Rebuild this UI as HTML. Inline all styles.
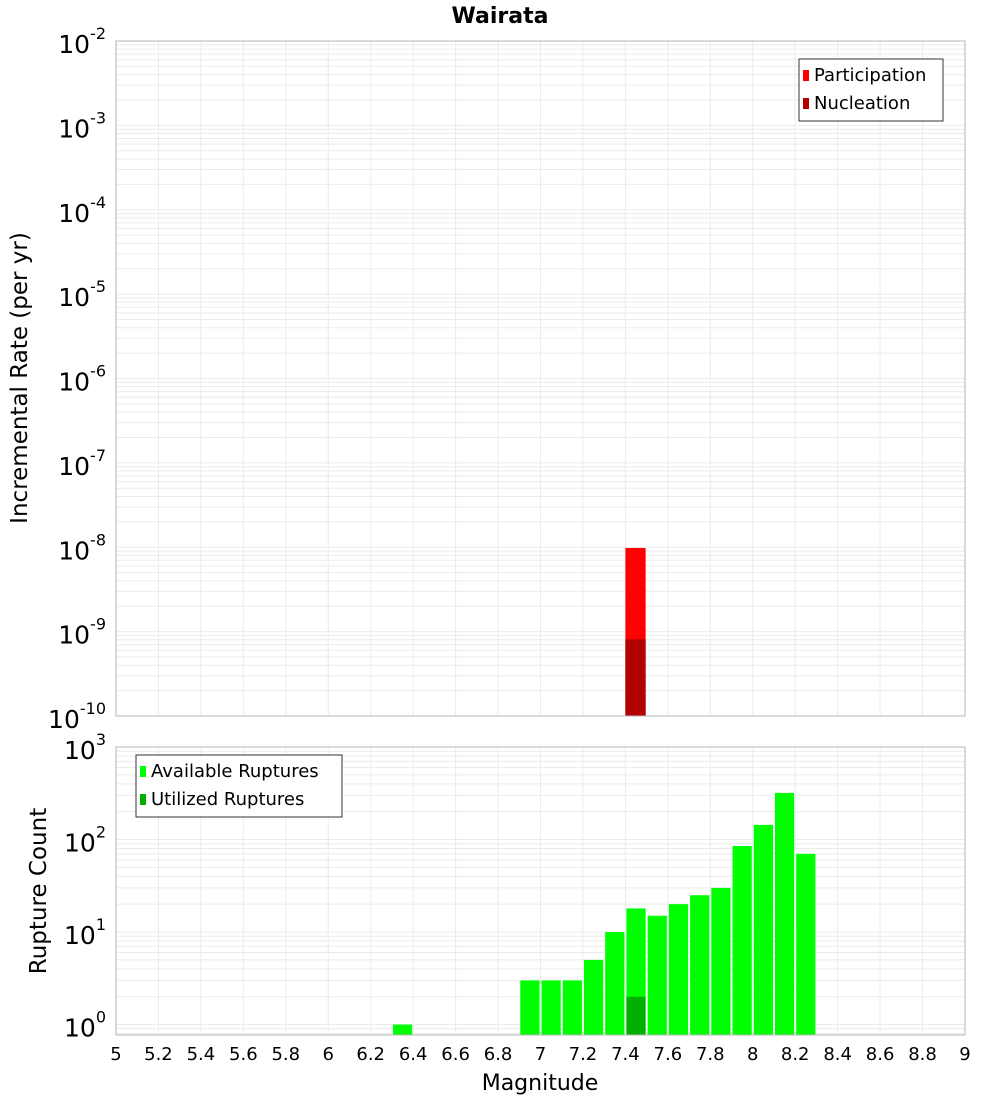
<!DOCTYPE html>
<html><head><meta charset="utf-8"><style>
body{margin:0;background:#fff}
svg{display:block;font-family:"DejaVu Sans","Liberation Sans",sans-serif}
</style></head><body>
<svg id="c" width="1000" height="1100" xmlns="http://www.w3.org/2000/svg">
<rect width="1000" height="1100" fill="#fff"/>
<text x="500" y="23" text-anchor="middle" font-size="22" font-weight="bold">Wairata</text>
<g id="topPanel"></g><g id="botPanel"></g>
<text transform="translate(27,378) rotate(-90)" text-anchor="middle" font-size="23">Incremental Rate (per yr)</text>
<text transform="translate(46,891) rotate(-90)" text-anchor="middle" font-size="23">Rupture Count</text>
<text x="540" y="1090" text-anchor="middle" font-size="22">Magnitude</text>
</svg>
<script>
const binCenters=[7.45];
const participation=[9.8e-9];
const nucleation=[8.1e-10];
const countBins=[6.35,6.95,7.05,7.15,7.25,7.35,7.45,7.55,7.65,7.75,7.85,7.95,8.05,8.15,8.25];
const available=[1,3,3,3,5,10,18,15,20,25,30,85,144,319,70];
const utilizedBins=[7.45];
const utilized=[2];
const xTicks=[5,5.2,5.4,5.6,5.8,6,6.2,6.4,6.6,6.8,7,7.2,7.4,7.6,7.8,8,8.2,8.4,8.6,8.8,9];
const topDecades=[-10,-9,-8,-7,-6,-5,-4,-3,-2];
const botDecades=[0,1,2,3];

const NS="http://www.w3.org/2000/svg";
const PL=116,PR=965;
const X=m=>PL+(m-5)/4*(PR-PL);
function el(p,t,a){const e=document.createElementNS(NS,t);for(const k in a)e.setAttribute(k,a[k]);p.appendChild(e);return e;}
function panel(g,y0,y1,yTop,yBot,decades,name){
  const Y=v=>y0+(yTop-Math.log10(v))/(yTop-yBot)*(y1-y0);
  const gridG=el(g,'g',{});
  
  
  for(const t of xTicks){const x=X(t);el(gridG,'line',{x1:x,x2:x,y1:y0,y2:y1,stroke:'#ebebeb','stroke-width':1});}
  for(let d=Math.floor(yBot);d<yTop;d++){for(let k=1;k<10;k++){const v=k*Math.pow(10,d);const lv=Math.log10(v);if(lv<yBot||lv>yTop)continue;const y=Y(v);el(gridG,'line',{x1:PL,x2:PR,y1:y,y2:y,stroke:'#ebebeb','stroke-width':1});}}
  for(const d of decades){const y=Y(Math.pow(10,d));
    const t=el(g,'text',{x:PL-10,y:y+12,'text-anchor':'end','font-size':25});
    
    
    t.textContent='10';
    const s=el(t,'tspan',{dy:-14,'font-size':16});s.textContent=String(d);}
  return Y;
}
const topG=document.getElementById('topPanel'),botG=document.getElementById('botPanel');
const Yt=panel(topG,41,716,-2,-10,topDecades,'top');
const Yb=panel(botG,747,1035,3,-0.113,botDecades,'bottom');
const bw=(X(5.1)-X(5))-1;
participation.forEach((v,i)=>{const x=X(binCenters[i]-0.05);const r=el(topG,'rect',{x:x,y:Yt(v),width:bw,height:716-Yt(v),fill:'#ff0000'});

});
nucleation.forEach((v,i)=>{const x=X(binCenters[i]-0.05);const r=el(topG,'rect',{x:x,y:Yt(v),width:bw,height:716-Yt(v),fill:'#b30000'});

});
available.forEach((v,i)=>{const x=X(countBins[i]-0.05)+1;const r=el(botG,'rect',{x:x,y:Yb(v),width:bw-1,height:1035-Yb(v),fill:'#00ff00'});

});
utilized.forEach((v,i)=>{const x=X(utilizedBins[i]-0.05)+1;const r=el(botG,'rect',{x:x,y:Yb(v),width:bw-1,height:1035-Yb(v),fill:'#00b000'});

});
el(topG,'rect',{x:PL,y:41,width:PR-PL,height:675,fill:'none',stroke:'#b4b4b4'});
el(botG,'rect',{x:PL,y:747,width:PR-PL,height:288,fill:'none',stroke:'#b4b4b4'});
xTicks.forEach(t=>{const tx=el(botG,'text',{x:X(t),y:1060,'text-anchor':'middle','font-size':18});


tx.textContent=String(t);});
function legend(g,x,y,w,items,name){const lg=el(g,'g',{});


el(lg,'rect',{x:x,y:y,width:w,height:items.length*28+6,fill:'#fff',stroke:'#333'});
items.forEach((it,i)=>{el(lg,'rect',{x:x+4,y:y+11+i*28,width:6,height:11,fill:it[1]});const t=el(lg,'text',{x:x+15,y:y+22+i*28,'font-size':18});t.textContent=it[0];});}
legend(topG,799,59,144,[['Participation','#ff0000'],['Nucleation','#b30000']],'top-legend');
legend(botG,136,755,206,[['Available Ruptures','#00ff00'],['Utilized Ruptures','#00b000']],'bottom-legend');
</script>
</body></html>
